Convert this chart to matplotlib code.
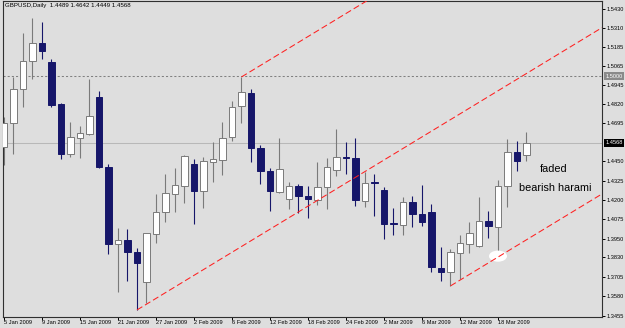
import matplotlib
matplotlib.use("Agg")
import matplotlib.pyplot as plt
from matplotlib.patches import Ellipse
import matplotlib.transforms as mtransforms
import pandas as pd

# GBPUSD daily bars, 5 Jan - 23 Mar 2009
dates = pd.bdate_range("2009-01-05", "2009-03-23")
opens = [1.4542, 1.4697, 1.4916, 1.5097, 1.5213, 1.5090, 1.4819, 1.4497, 1.4600, 1.4626,
         1.4865, 1.4413, 1.3916, 1.3942, 1.3865, 1.3671, 1.3981, 1.4123, 1.4239, 1.4291,
         1.4432, 1.4258, 1.4445, 1.4458, 1.4607, 1.4807, 1.4890, 1.4536, 1.4387, 1.4252,
         1.4207, 1.4291, 1.4226, 1.4200, 1.4284, 1.4394, 1.4478, 1.4471, 1.4194, 1.4318,
         1.4265, 1.4049, 1.4039, 1.4187, 1.4110, 1.4123, 1.3762, 1.3736, 1.3858, 1.3916,
         1.3904, 1.4065, 1.4026, 1.4291, 1.4510, 1.4489]
highs = [1.4736, 1.4994, 1.5277, 1.5374, 1.5348, 1.5110, 1.4826, 1.4703, 1.4678, 1.4981,
         1.4903, 1.4432, 1.4020, 1.4013, 1.3891, 1.3990, 1.4239, 1.4368, 1.4407, 1.4490,
         1.4465, 1.4478, 1.4574, 1.4703, 1.4839, 1.4994, 1.4916, 1.4555, 1.4407, 1.4600,
         1.4316, 1.4303, 1.4291, 1.4445, 1.4471, 1.4658, 1.4574, 1.4600, 1.4381, 1.4368,
         1.4284, 1.4149, 1.4220, 1.4226, 1.4297, 1.4174, 1.3897, 1.3884, 1.3974, 1.4058,
         1.4220, 1.4129, 1.4329, 1.4594, 1.4581, 1.4642]
lows = [1.4426, 1.4497, 1.4800, 1.4981, 1.5110, 1.4800, 1.4465, 1.4478, 1.4471, 1.4620,
        1.4405, 1.3852, 1.3607, 1.3678, 1.3491, 1.3536, 1.3923, 1.4058, 1.4123, 1.4181,
        1.4045, 1.4149, 1.4316, 1.4361, 1.4581, 1.4697, 1.4445, 1.4303, 1.4129, 1.4245,
        1.4142, 1.4116, 1.4084, 1.4168, 1.4142, 1.4355, 1.4368, 1.4161, 1.4155, 1.4097,
        1.3949, 1.3974, 1.3974, 1.4026, 1.4033, 1.3736, 1.3678, 1.3646, 1.3691, 1.3858,
        1.3897, 1.3955, 1.3813, 1.4155, 1.4387, 1.4449]
closes = [1.4697, 1.4916, 1.5097, 1.5213, 1.5161, 1.4813, 1.4497, 1.4607, 1.4632, 1.4742,
          1.4413, 1.3916, 1.3942, 1.3865, 1.3794, 1.3987, 1.4123, 1.4245, 1.4297, 1.4484,
          1.4258, 1.4452, 1.4465, 1.4600, 1.4800, 1.4897, 1.4536, 1.4387, 1.4258, 1.4400,
          1.4291, 1.4226, 1.4207, 1.4284, 1.4413, 1.4478, 1.4471, 1.4200, 1.4310, 1.4310,
          1.4045, 1.4045, 1.4187, 1.4110, 1.4058, 1.3768, 1.3736, 1.3865, 1.3923, 1.3987,
          1.4065, 1.4033, 1.4291, 1.4510, 1.4452, 1.4568]

price_ticks = [1.5430, 1.5310, 1.5185, 1.5065, 1.4945, 1.4820, 1.4695, 1.4450, 1.4325,
               1.4200, 1.4075, 1.3950, 1.3830, 1.3705, 1.3580, 1.3455]
key_level = 1.5000

# trend channel: anchor bar, anchor price, common slope per bar
channel_bars = [14, 25, 47]
channel_prices = [lows[14], highs[25], lows[47]]
channel_slope = 0.00372

harami_bar = 52  # white dot under the 18 Mar low

bg = "#dedede"
bull_edge = "#7a7a7a"
bear_col = "#16166a"
small = 4.1
plt.rcParams["font.family"] = ["Liberation Sans", "DejaVu Sans"]

fig = plt.figure(figsize=(6.25, 3.28), dpi=100, facecolor=bg)
ax = fig.add_axes([3 / 625, 11 / 328, 599 / 625, 316 / 328], facecolor=bg)

n = len(dates)
xs = list(range(n))
x_right = 62.95

# candles
for i in xs:
    o, h, l, c = opens[i], highs[i], lows[i], closes[i]
    bull = c >= o
    wick = bull_edge if bull else bear_col
    ax.vlines(i, l, h, color=wick, lw=0.8, zorder=2)
    body = max(abs(c - o), 0.0004)
    ax.bar(i, body, bottom=min(o, c), width=0.65,
           color="white" if bull else bear_col,
           edgecolor=bull_edge if bull else bear_col, lw=0.7, zorder=3)

# levels
ax.axhline(key_level, color="#808080", lw=0.75, dashes=(2, 2), zorder=1)
ax.axhline(closes[-1], color="#b8b8b8", lw=0.75, zorder=1)

# white mark at the harami low
ax.add_patch(Ellipse((harami_bar, lows[harami_bar] + 0.0025), 1.9, 0.0072,
                     fc="white", ec="none", zorder=4))

# channel lines
for b, p in zip(channel_bars, channel_prices):
    ax.plot([b, x_right], [p, p + channel_slope * (x_right - b)],
            color="#ff2020", lw=0.75, dashes=(6, 3), zorder=5)

ax.text(56.4, 1.4400, "faded", fontsize=7.8, va="center", ha="left", color="black")
ax.text(54.2, 1.4278, "bearish harami", fontsize=7.8, va="center", ha="left", color="black")

ax.text(0.004, 0.993, "GBPUSD,Daily  %.4f %.4f %.4f %.4f" % (opens[-1], highs[-1], lows[-1], closes[-1]),
        transform=ax.transAxes, fontsize=small + 0.3, va="top", ha="left")

ax.set_xlim(-0.105, x_right)
ax.set_ylim(1.34455, 1.54838)

# axes
ax.yaxis.tick_right()
ax.set_yticks(price_ticks)
ax.set_yticklabels(["%.4f" % t for t in price_ticks])
ax.tick_params(axis="y", length=2.5, width=0.7, pad=1, labelsize=small, direction="out")
tick_idx = list(range(0, n, 4))
ax.set_xticks(tick_idx)
ax.set_xticklabels([f"{dates[i].day} {dates[i].strftime('%b %Y')}" for i in tick_idx],
                   ha="left")
ax.tick_params(axis="x", length=2, width=0.7, pad=0.5, labelsize=small, direction="out")

blend = mtransforms.blended_transform_factory(ax.transAxes, ax.transData)
ax.text(1.0055, key_level, "%.4f" % key_level, transform=blend, fontsize=small, color="white",
        va="center", ha="left", bbox=dict(boxstyle="square,pad=0.2", fc="#8a8a8a", ec="none"))
ax.text(1.0055, closes[-1], "%.4f" % closes[-1], transform=blend, fontsize=small, color="white",
        va="center", ha="left", bbox=dict(boxstyle="square,pad=0.2", fc="black", ec="none"))

for s in ax.spines.values():
    s.set_color("#303030")
    s.set_linewidth(0.8)

fig.savefig("out.png", dpi=100, facecolor=bg)
